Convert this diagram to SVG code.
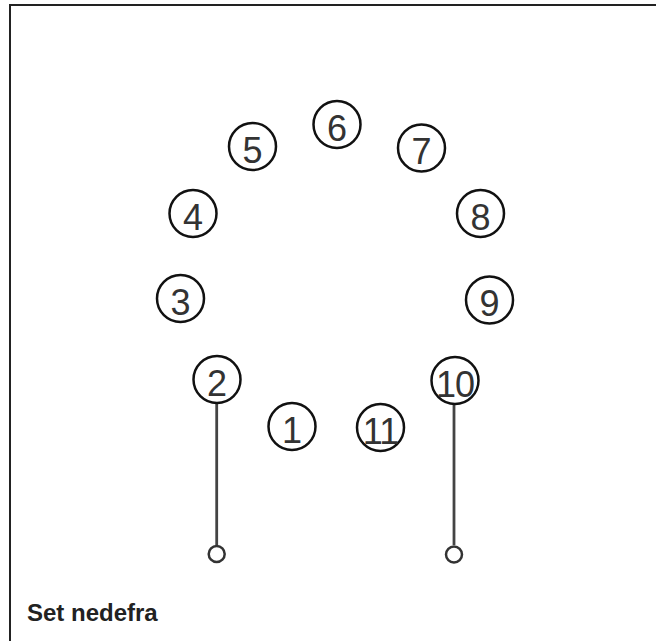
<svg xmlns="http://www.w3.org/2000/svg" width="656" height="641" viewBox="0 0 656 641">
<style>
.node circle{fill:#fff;stroke:#111;stroke-width:2.5}
.node text{font-family:"Liberation Sans",Arial,sans-serif;font-size:36px;fill:#333;text-anchor:middle}
.wire{stroke:#444;stroke-width:2.8;fill:none}
.pin{fill:#fff;stroke:#333;stroke-width:2.5}
.frame{fill:none;stroke:#222;stroke-width:2}
.title{font-family:"Liberation Sans",Arial,sans-serif;font-size:24px;font-weight:bold;fill:#222}
</style>
<rect width="656" height="641" fill="#fff"/>
<rect class="frame" x="10" y="5" width="700" height="700"/>
<g id="connectors">
<line class="wire" x1="216.7" y1="403" x2="216.7" y2="545"/>
<circle class="pin" cx="216.7" cy="554" r="8"/>
<line class="wire" x1="454" y1="404" x2="454" y2="545"/>
<circle class="pin" cx="454" cy="554.5" r="8"/>
</g>
<g id="n1" class="node"><circle cx="292" cy="426.5" r="23.5"/><text x="292" y="442.5">1</text></g>
<g id="n2" class="node"><circle cx="217" cy="379.5" r="23.5"/><text x="217" y="395.5">2</text></g>
<g id="n3" class="node"><circle cx="180.5" cy="298.5" r="23.5"/><text x="180.5" y="314.5">3</text></g>
<g id="n4" class="node"><circle cx="193" cy="213.5" r="23.5"/><text x="193" y="229.5">4</text></g>
<g id="n5" class="node"><circle cx="252.5" cy="146.5" r="23.5"/><text x="252.5" y="162.5">5</text></g>
<g id="n6" class="node"><circle cx="337" cy="124.5" r="23.5"/><text x="337" y="140.5">6</text></g>
<g id="n7" class="node"><circle cx="421.5" cy="148" r="23.5"/><text x="421.5" y="164">7</text></g>
<g id="n8" class="node"><circle cx="480.5" cy="213.5" r="23.5"/><text x="480.5" y="229.5">8</text></g>
<g id="n9" class="node"><circle cx="489.5" cy="300" r="23.5"/><text x="489.5" y="316">9</text></g>
<g id="n10" class="node"><circle cx="455" cy="380.5" r="23.5"/><text x="455" y="396.5" letter-spacing="-1">10</text></g>
<g id="n11" class="node"><circle cx="380.5" cy="427.5" r="23.5"/><text x="380.5" y="443.5" letter-spacing="-1">11</text></g>
<text class="title" x="27" y="620.5">Set nedefra</text>
</svg>
